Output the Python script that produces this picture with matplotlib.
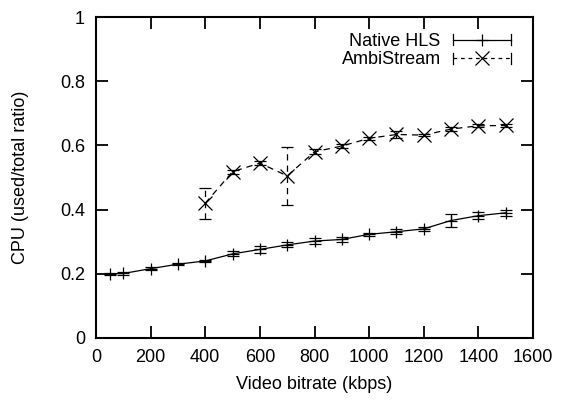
import matplotlib
matplotlib.use("Agg")
import matplotlib.pyplot as plt
from matplotlib.legend_handler import HandlerBase
from matplotlib.lines import Line2D

plt.rcParams["font.family"] = ["Liberation Sans", "DejaVu Sans"]
plt.rcParams["font.size"] = 13

# Native HLS
hls_x = [50, 100, 200, 300, 400, 500, 600, 700, 800, 900, 1000, 1100, 1200, 1300, 1400, 1500]
hls_y = [0.200, 0.201, 0.216, 0.230, 0.240, 0.262, 0.276, 0.290, 0.302, 0.307,
         0.323, 0.331, 0.340, 0.366, 0.381, 0.390]
hls_err = [0.004, 0.004, 0.005, 0.004, 0.004, 0.008, 0.010, 0.008, 0.008, 0.008,
           0.004, 0.008, 0.006, 0.019, 0.010, 0.009]

# AmbiStream
amb_x = [400, 500, 600, 700, 800, 900, 1000, 1100, 1200, 1300, 1400, 1500]
amb_y = [0.420, 0.518, 0.545, 0.505, 0.580, 0.598, 0.622, 0.634, 0.632, 0.651, 0.661, 0.662]
amb_err = [0.048, 0.006, 0.006, 0.090, 0.008, 0.005, 0.005, 0.010, 0.004, 0.005, 0.005, 0.004]


class ErrHandler(HandlerBase):
    # gnuplot-like key sample: line with caps at both ends, marker in the middle
    def __init__(self, ls, marker, ms):
        super().__init__()
        self.ls = ls
        self.marker = marker
        self.ms = ms

    def create_artists(self, legend, orig_handle, xdescent, ydescent,
                       width, height, fontsize, trans):
        y = height / 2 - ydescent
        x0, x1 = -xdescent, width - xdescent
        cap = 4
        arts = [
            Line2D([x0, x1], [y, y], color="black", lw=0.9, ls=self.ls),
            Line2D([x0, x0], [y - cap, y + cap], color="black", lw=0.9),
            Line2D([x1, x1], [y - cap, y + cap], color="black", lw=0.9),
            Line2D([(x0 + x1) / 2], [y], color="black", marker=self.marker,
                   ms=self.ms, mew=0.9, ls="none"),
        ]
        for a in arts:
            a.set_transform(trans)
        return arts


fig = plt.figure(figsize=(5.61, 4.01), dpi=100)
ax = fig.add_axes([96 / 561, 1 - 338 / 401, 437 / 561, 321 / 401])

h1 = ax.errorbar(hls_x, hls_y, yerr=hls_err, color="black", lw=0.9, ls="-",
                 marker="+", ms=8, mew=0.9, capsize=4, elinewidth=0.9, capthick=0.9)
h2 = ax.errorbar(amb_x, amb_y, yerr=amb_err, color="black", lw=0.9, ls=(0, (5, 4)),
                 marker="x", ms=9.5, mew=0.9, capsize=4, elinewidth=0.9, capthick=0.9)
h2[2][0].set_linestyle((0, (5, 4)))

ax.set_xlim(0, 1600)
ax.set_ylim(0, 1)
ax.set_xticks(range(0, 1601, 200))
ax.set_yticks([0, 0.2, 0.4, 0.6, 0.8, 1])
ax.set_yticklabels(["0", "0.2", "0.4", "0.6", "0.8", "1"])
ax.tick_params(direction="in", length=8.5, width=1.3, top=True, right=True, pad=8)
for s in ax.spines.values():
    s.set_linewidth(1.5)

ax.set_xlabel("Video bitrate (kbps)", labelpad=7)
ax.set_ylabel("CPU (used/total ratio)", labelpad=22)

ax.legend([h1, h2], ["Native HLS", "AmbiStream"], loc="upper right",
          bbox_to_anchor=(0.95, 0.95), borderaxespad=0, borderpad=0,
          markerfirst=False, frameon=False, handlelength=3.2, handletextpad=0.7,
          labelspacing=0.08, fontsize=13,
          handler_map={h1: ErrHandler("-", "+", 8), h2: ErrHandler((0, (3, 3)), "x", 9.5)})

fig.savefig("out.png", dpi=100)
